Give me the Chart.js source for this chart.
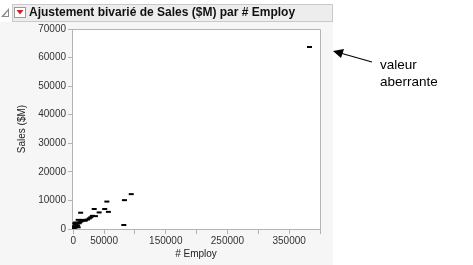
<!DOCTYPE html>
<html>
<head>
<meta charset="utf-8">
<script src="https://cdn.jsdelivr.net/npm/chart.js@4.4.1/dist/chart.umd.min.js"></script>
<style>
	html, body { margin: 0; padding: 0; background: #fff; }
	#wrap { position: relative; width: 473px; height: 265px; }
</style>
</head>
<body>
<div id="wrap"><canvas id="chart" width="473" height="265"></canvas></div>
<script>
'use strict'

const TITLE = 'Ajustement bivarié de Sales ($M) par # Employ'
const X_TITLE = '# Employ'
const Y_TITLE = 'Sales ($M)'
const X_LABELS = [0, 50000, 150000, 250000, 350000]
const NOTE = ['valeur', 'aberrante']

const employ = [
	383000, 94000, 83000, 54500, 82000, 12000, 34000, 51000, 57000, 42000,
	31000, 28500, 23000, 18000, 8000, 36000, 26000, 20000, 15000, 13000,
	11000, 9500, 7000, 6000, 5000, 4000, 3500, 2500, 2000, 1000, 8000, 3000,
]
const sales = [
	63700, 12200, 10100, 9600, 1400, 5700, 7000, 7000, 6000, 5800,
	4600, 4100, 3300, 2900, 3200, 4500, 3700, 3000, 3200, 2700,
	2400, 2000, 1200, 1900, 700, 2300, 1600, 2000, 1000, 300, 600, 500,
]

const points = employ.map((x, i) => ({ x, y: sales[i] }))

const decorPlugin = {
	id: 'decor',
	beforeDraw(chart) {
		const ctx = chart.ctx
		const a = chart.chartArea
		ctx.save()
		// panel background
		ctx.fillStyle = '#f6f6f6'
		ctx.fillRect(0, 22, 333, 243)
		// title bar
		ctx.fillStyle = '#ededed'
		ctx.fillRect(12, 4, 320, 17)
		ctx.strokeStyle = '#c9c9c9'
		ctx.lineWidth = 1
		ctx.strokeRect(12.5, 4.5, 320, 17)
		// outline triangle
		ctx.fillStyle = '#8a8a8a'
		ctx.beginPath()
		ctx.moveTo(9, 8)
		ctx.lineTo(9, 17)
		ctx.lineTo(1, 17)
		ctx.closePath()
		ctx.fill()
		ctx.fillStyle = '#ffffff'
		ctx.beginPath()
		ctx.moveTo(8, 11)
		ctx.lineTo(8, 16)
		ctx.lineTo(4, 16)
		ctx.closePath()
		ctx.fill()
		// red menu button
		ctx.fillStyle = '#ffffff'
		ctx.fillRect(14, 7, 12, 11)
		ctx.strokeStyle = '#9a9a9a'
		ctx.strokeRect(14.5, 7.5, 11, 10)
		ctx.fillStyle = '#d4202a'
		ctx.beginPath()
		ctx.moveTo(16.5, 10)
		ctx.lineTo(23.5, 10)
		ctx.lineTo(20, 14.5)
		ctx.closePath()
		ctx.fill()
		// title text
		ctx.fillStyle = '#111'
		ctx.font = 'bold 12px "Liberation Sans", Arial, sans-serif'
		ctx.textBaseline = 'middle'
		ctx.textAlign = 'left'
		ctx.fillText(TITLE, 29, 13)
		// plot area
		ctx.fillStyle = '#ffffff'
		ctx.fillRect(a.left, a.top, a.right - a.left, a.bottom - a.top)
		ctx.restore()
	},
	afterDraw(chart) {
		const ctx = chart.ctx
		const a = chart.chartArea
		ctx.save()
		// frame top and right
		ctx.strokeStyle = '#b4b4b4'
		ctx.lineWidth = 1
		ctx.beginPath()
		ctx.moveTo(a.left, a.top + 0.5)
		ctx.lineTo(a.right + 0.5, a.top + 0.5)
		ctx.lineTo(a.right + 0.5, a.bottom)
		ctx.stroke()
		// annotation arrow
		ctx.strokeStyle = '#000'
		ctx.fillStyle = '#000'
		ctx.lineWidth = 1.2
		ctx.beginPath()
		ctx.moveTo(372, 62)
		ctx.lineTo(342, 53.5)
		ctx.stroke()
		ctx.beginPath()
		ctx.moveTo(333, 51)
		ctx.lineTo(344, 49)
		ctx.lineTo(341, 58)
		ctx.closePath()
		ctx.fill()
		ctx.font = '13.5px "Liberation Sans", Arial, sans-serif'
		ctx.textBaseline = 'middle'
		ctx.textAlign = 'left'
		ctx.fillText(NOTE[0], 380, 65)
		ctx.fillText(NOTE[1], 380, 82)
		ctx.restore()
	},
}

const tickFont = { family: '"Liberation Sans", Arial, sans-serif', size: 10 }

new Chart(document.getElementById('chart'), {
	type: 'scatter',
	data: {
		datasets: [
			{
				data: points,
				pointStyle: 'line',
				pointRadius: 2.5,
				pointHoverRadius: 2.5,
				borderColor: '#000',
				backgroundColor: '#000',
				borderWidth: 2,
			},
		],
	},
	options: {
		responsive: false,
		animation: false,
		events: [],
		layout: { padding: { left: 0, top: 29, right: 153, bottom: 0 } },
		plugins: { legend: { display: false }, tooltip: { enabled: false } },
		scales: {
			x: {
				type: 'linear',
				min: -2000,
				max: 400000,
				afterFit: scale => { scale.height = 36 },
				afterBuildTicks: scale => {
					const t = []
					for (let v = 0; v <= 400000; v += 50000) t.push({ value: v })
					scale.ticks = t
				},
				grid: { drawOnChartArea: false, tickLength: 5, color: '#b4b4b4' },
				border: { color: '#b4b4b4' },
				ticks: {
					font: tickFont,
					color: '#333',
					padding: 1,
					maxRotation: 0,
					autoSkip: false,
					callback: v => (X_LABELS.includes(v) ? String(v) : ''),
				},
				title: {
					display: true,
					text: X_TITLE,
					font: tickFont,
					color: '#222',
					padding: { top: 0, bottom: 5 },
				},
			},
			y: {
				min: 0,
				max: 70000,
				afterFit: scale => { scale.width = 72 },
				grid: { drawOnChartArea: false, tickLength: 4, color: '#b4b4b4' },
				border: { color: '#b4b4b4' },
				ticks: {
					stepSize: 10000,
					font: tickFont,
					color: '#333',
					padding: 2,
					callback: v => String(v),
				},
				title: {
					display: true,
					text: Y_TITLE,
					font: tickFont,
					color: '#222',
					padding: { top: 16, bottom: 4 },
				},
			},
		},
	},
	plugins: [decorPlugin],
})
</script>
</body>
</html>
